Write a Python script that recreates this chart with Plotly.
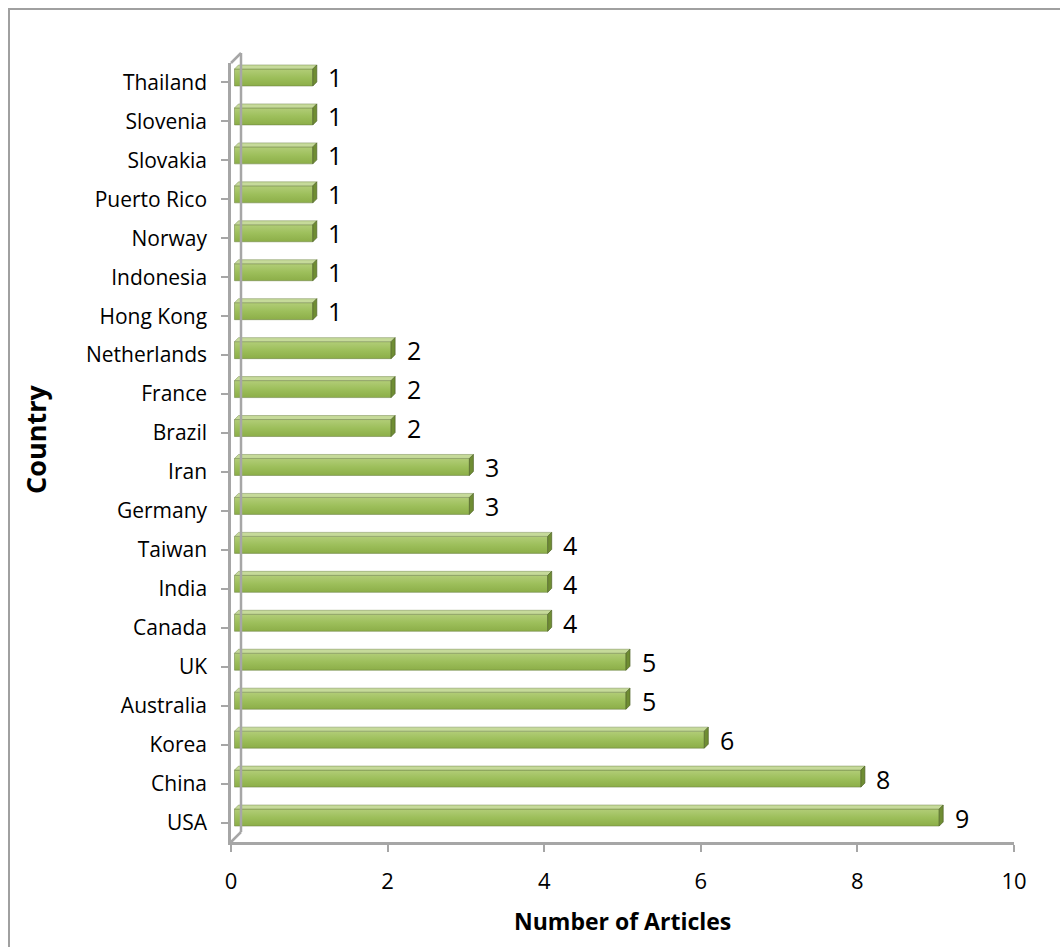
import plotly.graph_objects as go

# Articles per country (bottom to top)
countries = ["USA", "China", "Korea", "Australia", "UK", "Canada", "India", "Taiwan",
             "Germany", "Iran", "Brazil", "France", "Netherlands", "Hong Kong",
             "Indonesia", "Norway", "Puerto Rico", "Slovakia", "Slovenia", "Thailand"]
articles = [9, 8, 6, 5, 5, 4, 4, 4, 3, 3, 2, 2, 2, 1, 1, 1, 1, 1, 1, 1]
x_ticks = [0, 2, 4, 6, 8, 10]

W, H = 1060, 947
ML, MR, MT, MB = 231, 46, 63, 105
PW, PH = W - ML - MR, H - MT - MB
X_MAX = 10
XU = PW / X_MAX            # px per x unit
YU = PH / len(countries)   # px per category

# 3-D bar geometry in pixels, converted to data units
ox, oy = 3.5 / XU, 5 / YU
half = 8.5 / YU
dx, dy = 4 / XU, 4 / YU

FONT = "'Open Sans', sans-serif"
AXIS_GRAY = "#a6a6a6"

fig = go.Figure()

top_x, top_y, side_x, side_y = [], [], [], []
for i, v in enumerate(articles):
    yb, yt = i + oy - half, i + oy + half
    # front face with vertical shading
    fig.add_trace(go.Scatter(
        x=[ox, v + ox, v + ox, ox, ox], y=[yb, yb, yt, yt, yb],
        mode="lines", fill="toself",
        fillgradient=dict(type="vertical",
                          colorscale=[[0, "#8cae48"], [0.5, "#9dbf5b"], [1, "#b2cd78"]]),
        line=dict(color="rgba(110,130,70,0.55)", width=1),
        hoverinfo="skip", showlegend=False))
    top_x += [ox, v + ox, v + ox + dx, ox + dx, ox, None]
    top_y += [yt, yt, yt + dy, yt + dy, yt, None]
    side_x += [v + ox, v + ox + dx, v + ox + dx, v + ox, v + ox, None]
    side_y += [yb, yb + dy, yt + dy, yt, yb, None]

fig.add_trace(go.Scatter(x=top_x, y=top_y, mode="lines", fill="toself",
                         fillcolor="#c6da9a", line=dict(color="rgba(120,140,80,0.5)", width=1),
                         hoverinfo="skip", showlegend=False))
fig.add_trace(go.Scatter(x=side_x, y=side_y, mode="lines", fill="toself",
                         fillcolor="#6f8d33", line=dict(color="rgba(80,100,40,0.7)", width=1),
                         hoverinfo="skip", showlegend=False))

# value labels
annotations = []
for i, v in enumerate(articles):
    annotations.append(dict(x=v, y=i, xref="x", yref="y", text=str(v),
                            showarrow=False, xanchor="left", yanchor="middle",
                            xshift=17, yshift=5, font=dict(family=FONT, size=25, color="#000")))

annotations.append(dict(x=(ML + PW / 2 - ML) / PW, y=-(921 - (MT + PH)) / PH,
                        xref="paper", yref="paper", text="<b>Number of Articles</b>",
                        showarrow=False, xanchor="center", yanchor="middle",
                        font=dict(family=FONT, size=23, color="#000")))
annotations.append(dict(x=(35 - ML) / PW, y=1 - (440 - MT) / PH,
                        xref="paper", yref="paper", text="<b>Country</b>", textangle=-90,
                        showarrow=False, xanchor="center", yanchor="middle",
                        font=dict(family=FONT, size=27, color="#000")))

# back wall / floor edges and chart border
ddx, ddy = 10 / PW, 10 / PH
line_style = dict(color=AXIS_GRAY, width=2.5)
shapes = [
    dict(type="line", xref="paper", yref="paper", x0=ddx, y0=ddy, x1=ddx, y1=1 + ddy, line=line_style),
    dict(type="line", xref="paper", yref="paper", x0=0, y0=1, x1=ddx, y1=1 + ddy, line=line_style),
    dict(type="line", xref="paper", yref="paper", x0=0, y0=0, x1=ddx, y1=ddy, line=line_style),
    dict(type="rect", xref="paper", yref="paper",
         x0=(9 - ML) / PW, y0=-(H + 20 - MT - PH) / PH, x1=(W + 20 - ML) / PW, y1=1 + (MT - 9) / PH,
         line=dict(color="#a0a0a0", width=2), fillcolor="rgba(0,0,0,0)", layer="below"),
]

fig.update_layout(
    width=W, height=H,
    margin=dict(l=ML, r=MR, t=MT, b=MB),
    paper_bgcolor="white", plot_bgcolor="white",
    showlegend=False,
    annotations=annotations,
    shapes=shapes,
    font=dict(family=FONT, size=20, color="#000"),
    xaxis=dict(range=[0, X_MAX], tickvals=x_ticks, showgrid=False, zeroline=False,
               showline=True, linecolor=AXIS_GRAY, linewidth=2.5,
               ticks="outside", ticklen=7, tickwidth=2, tickcolor=AXIS_GRAY,
               ticklabelstandoff=11, tickfont=dict(family=FONT, size=22, color="#000")),
    yaxis=dict(range=[-0.5, len(countries) - 0.5], tickvals=list(range(len(countries))),
               ticktext=countries, showgrid=False, zeroline=False,
               showline=True, linecolor=AXIS_GRAY, linewidth=2.5,
               ticks="outside", ticklen=7, tickwidth=2, tickcolor=AXIS_GRAY,
               ticklabelstandoff=10, tickfont=dict(family=FONT, size=21, color="#000")),
)

fig.write_html("out.html")
